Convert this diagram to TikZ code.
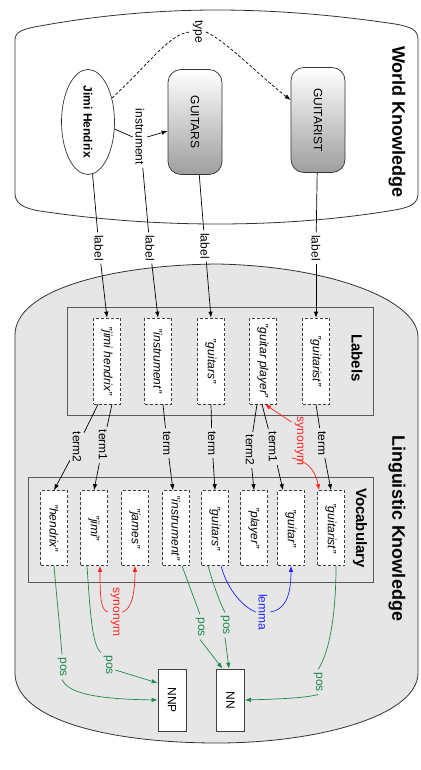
\documentclass[tikz,border=0pt]{standalone}
\usepackage{fontspec}
\setmainfont{Liberation Sans}
\usetikzlibrary{arrows.meta,shapes.geometric}
\definecolor{lkgray}{HTML}{E6E6E6}
\definecolor{posgreen}{HTML}{1E8A50}
\definecolor{synred}{HTML}{FF2222}
\definecolor{lemblue}{HTML}{2222FF}
\newcommand\vtext[1]{\rotatebox{-90}{#1}}
\begin{document}
\begin{tikzpicture}[x=1pt,y=-1pt,
  every node/.style={font=\fontsize{12}{14}\selectfont},
  region/.style={draw=black!80, line width=0.8pt},
  frame/.style={draw=black!65, line width=1pt},
  elab/.style={inner sep=2.5pt},
  lbox/.style={draw=black!75, dash pattern=on 3pt off 2pt, fill=white, minimum width=27pt, minimum height=86pt, inner sep=0pt, font=\itshape\fontsize{12}{14}\selectfont},
  vbox/.style={lbox, minimum height=75pt},
  capsule/.style={draw=black!80, rounded corners=13pt, top color=white, bottom color=black!38, minimum width=54pt, minimum height=105pt, inner sep=0pt},
  tagbox/.style={draw=black!75, fill=white, minimum width=28pt, minimum height=62pt, inner sep=0pt},
  arr/.style={-{Latex[length=6pt,width=4.5pt]}},
  bigtitle/.style={font=\bfseries\fontsize{18}{20}\selectfont},
  smalltitle/.style={font=\bfseries\fontsize{15}{17}\selectfont},
  line width=0.7pt]
\path[use as bounding box] (0,0) rectangle (420,770);
% regions
\draw[region] (15,40) .. controls (15,32) and (22,29) .. (40,26) .. controls (100,15) and (160,10) .. (217,10) .. controls (275,10) and (335,15) .. (395,24) .. controls (412,27) and (418,30) .. (418,40) -- (418,193) .. controls (418,203) and (412,207) .. (395,210) .. controls (335,220) and (275,224) .. (217,224) .. controls (160,224) and (100,220) .. (40,211) .. controls (22,208) and (15,203) .. (15,193) -- cycle;
\draw[region, fill=lkgray] (15,673) -- (15,335) .. controls (15,290) and (110,265) .. (217,264) .. controls (330,266) and (418,300) .. (418,337) -- (418,673) .. controls (418,715) and (320,743) .. (217,743) .. controls (110,743) and (15,720) .. (15,673) -- cycle;
\draw[frame] (67,307) rectangle (373,415);
\draw[frame] (28,477) rectangle (373,582);
% titles
\node[bigtitle] (twk) at (397,122) {\vtext{World Knowledge}};
\node[bigtitle] (tlk) at (397,528) {\vtext{Linguistic Knowledge}};
\node[smalltitle] (tlab) at (357,358) {\vtext{Labels}};
\node[smalltitle] (tvoc) at (360,528) {\vtext{Vocabulary}};
% world nodes
\node[ellipse, draw=black!80, fill=white, minimum width=53pt, minimum height=105pt, inner sep=0pt, font=\bfseries\fontsize{12}{14}\selectfont] (jh) at (88,122) {\vtext{Jimi Hendrix}};
\node[capsule] (gs) at (195,122) {\vtext{GUITARS}};
\node[capsule] (gt) at (318,120) {\vtext{GUITARIST}};
\node[elab] (ty) at (198,32) {\vtext{type}};
\node[elab] (in) at (140,137) {\vtext{instrument}};
\draw[dash pattern=on 3pt off 2pt] (jh.45) .. controls (150,63) and (170,33) .. (ty.west);
\draw[dash pattern=on 3pt off 2pt, arr] (ty.east) .. controls (225,40) and (262,78) .. ([yshift=20pt]gt.west);
\draw (jh.-15) -- (in.west);
\draw[arr] (in.east) -- ([yshift=-9pt]gs.west);
% label boxes
\node[lbox] (lb1) at (107,361) {\vtext{"jimi hendrix"}};
\node[lbox] (lb2) at (158,361) {\vtext{"instrument"}};
\node[lbox] (lb3) at (211,361) {\vtext{"guitars"}};
\node[lbox] (lb4) at (263,361) {\vtext{"guitar player"}};
\node[lbox] (lb5) at (316,361) {\vtext{"guitarist"}};
% label edges
\node[elab] (l1) at (99,248) {\vtext{label}};
\node[elab] (l2) at (150,248) {\vtext{label}};
\node[elab] (l3) at (205,246) {\vtext{label}};
\node[elab] (l4) at (316,248) {\vtext{label}};
\draw (jh) -- (l1); \draw[arr] (l1) -- (lb1.north);
\draw (in) -- (l2); \draw[arr] (l2) -- (lb2.north);
\draw (gs) -- (l3); \draw[arr] (l3) -- (lb3.north);
\draw (gt) -- (l4); \draw[arr] (l4) -- (lb5.north);
% vocabulary boxes
\node[vbox] (vb1) at (54,528) {\vtext{"hendrix"}};
\node[vbox] (vb2) at (94,528) {\vtext{"jimi"}};
\node[vbox] (vb3) at (135,528) {\vtext{"james"}};
\node[vbox] (vb4) at (176,528) {\vtext{"instrument"}};
\node[vbox] (vb5) at (215,528) {\vtext{"guitars"}};
\node[vbox] (vb6) at (254,528) {\vtext{"player"}};
\node[vbox] (vb7) at (291,528) {\vtext{"guitar"}};
\node[vbox] (vb8) at (331,528) {\vtext{"guitarist"}};
% term edges
\node[elab] (t1) at (77,447) {\vtext{term2}};
\node[elab] (t2) at (103,445) {\vtext{term1}};
\node[elab] (t3) at (167,443) {\vtext{term}};
\node[elab] (t4) at (212,443) {\vtext{term}};
\node[elab] (t5) at (250,450) {\vtext{term2}};
\node[elab] (t6) at (273,447) {\vtext{term1}};
\node[elab] (t7) at (322,443) {\vtext{term}};
\draw ([xshift=-9pt]lb1.south) -- (t1); \draw[arr] (t1) -- (vb1.north);
\draw ([xshift=5pt]lb1.south) -- (t2); \draw[arr] (t2) -- (vb2.north);
\draw ([xshift=5pt]lb2.south) -- (t3); \draw[arr] (t3) -- ([xshift=-3pt]vb4.north);
\draw (lb3.south) -- (t4); \draw[arr] (t4) -- (vb5.north);
\draw ([xshift=-6pt]lb4.south) -- (t5); \draw[arr] (t5) -- (vb6.north);
\draw ([xshift=-1pt]lb4.south) -- (t6); \draw[arr] (t6) -- ([xshift=-8pt]vb7.north);
\draw (lb5.south) -- (t7); \draw[arr] (t7) -- (vb8.north);
% synonym (labels)
\node[elab, text=synred] (s1) at (299,441) {\vtext{synonym}};
\draw[arr, synred] ([yshift=-8pt]s1.north west) -- ([xshift=2pt]lb4.south);
\draw[arr, synred] ([yshift=10pt]s1.south west) .. controls (312,462) and (316,475) .. ([xshift=2pt]vb8.north west);
% synonym (vocabulary)
\node[elab, text=synred] (s2) at (115,612) {\vtext{synonym}};
\draw[arr, synred] (s2.west) .. controls (101,610) and (100,598) .. ([xshift=6pt]vb2.south);
\draw[arr, synred] (s2.east) .. controls (130,610) and (135,598) .. (vb3.south);
% lemma
\node[elab, text=lemblue] (lm) at (263,612) {\vtext{lemma}};
\draw[lemblue] ([xshift=6pt]vb5.south) .. controls (228,592) and (245,608) .. (lm.west);
\draw[arr, lemblue] (lm.east) .. controls (284,610) and (291,598) .. (vb7.south);
% pos
\node[tagbox] (nnp) at (172,700) {\vtext{NNP}};
\node[tagbox] (nn) at (230.5,700) {\vtext{NN}};
\node[elab, text=posgreen] (p1) at (62,667) {\vtext{pos}};
\node[elab, text=posgreen] (p2) at (108,665) {\vtext{pos}};
\node[elab, text=posgreen] (p3) at (200,627) {\vtext{pos}};
\node[elab, text=posgreen] (p4) at (225,625) {\vtext{pos}};
\node[elab, text=posgreen] (p5) at (318,682) {\vtext{pos}};
\draw[posgreen] (vb1.south) .. controls (57,600) and (60,630) .. (p1.north);
\draw[arr, posgreen] (p1.south) .. controls (68,692) and (90,699) .. (nnp.west);
\draw[posgreen] ([xshift=-7pt]vb2.south) .. controls (90,610) and (92,645) .. (p2.north west);
\draw[arr, posgreen] ([yshift=-5pt]p2.east) -- ([yshift=17pt]nnp.west);
\draw[posgreen] ([xshift=6pt]vb4.south) -- (p3.north);
\draw[arr, posgreen] (p3.south) -- ([xshift=-8pt]nn.north);
\draw[posgreen] ([xshift=-7pt]vb5.south) .. controls (215,590) and (221,605) .. (p4.north);
\draw[arr, posgreen] (p4.south) -- ([xshift=-1.5pt]nn.north);
\draw[posgreen] ([xshift=5pt]vb8.south) .. controls (336,620) and (328,655) .. (p5.north);
\draw[arr, posgreen] (p5.south) .. controls (305,698) and (280,699) .. (nn.east);
\end{tikzpicture}
\end{document}
